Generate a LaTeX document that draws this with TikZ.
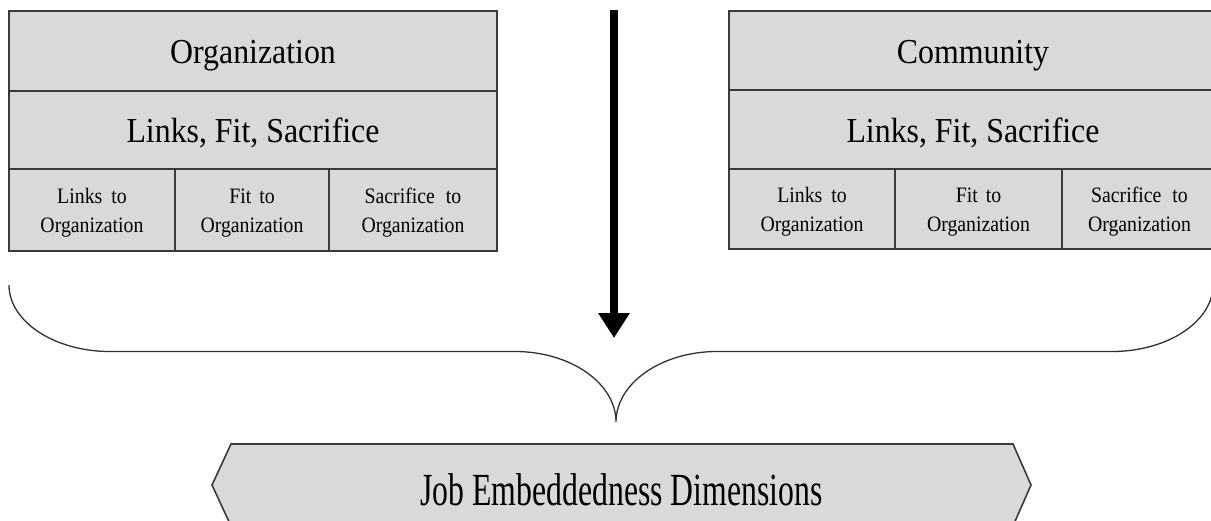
\documentclass[tikz,border=0pt]{standalone}
\usepackage{fontspec}
\setmainfont{Liberation Serif}
\newfontfamily\headfont[FakeStretch=0.91]{Liberation Serif}
\newfontfamily\cellfont[FakeStretch=0.9]{Liberation Serif}
\newfontfamily\jobfont[FakeStretch=0.69]{Liberation Serif}
\usetikzlibrary{arrows.meta}
\definecolor{boxfill}{HTML}{D9D9D9}
\definecolor{edge}{HTML}{3A3A3A}
\definecolor{bracecol}{HTML}{303030}
\begin{document}
\begin{tikzpicture}[x=1pt,y=-1pt,
  cellbase/.style={draw=edge, line width=1.6pt, fill=boxfill, inner sep=0pt, anchor=center},
  headcell/.style={cellbase, font=\headfont\fontsize{35}{40}\selectfont, text height=25pt, text depth=0pt},
  smallcell/.style={cellbase, align=center, font=\cellfont\fontsize{22}{29}\selectfont, text height=46pt, text depth=2pt},
  jobtext/.style={font=\jobfont\fontsize{46}{50}\selectfont, inner sep=0pt, anchor=base},
  bigarrow/.style={line width=8pt, draw=black, -{Triangle[length=25pt,width=30pt]}},
  bracestyle/.style={draw=bracecol, line width=1.3pt},
  hexstyle/.style={draw=edge, line width=1.6pt, fill=boxfill}
]
\useasboundingbox (0,0) rectangle (1211,520);
\clip (0,0) rectangle (1211,520);

% left box: Organization
\node[headcell, minimum width=488pt, minimum height=80pt] (orgh) at (253,51) {Organization};
\node[headcell, minimum width=488pt, minimum height=78pt] (orgl) at (253,130) {Links, Fit, Sacrifice};
\node[smallcell, minimum width=166pt, minimum height=82pt] (orgc1) at (92,210) {Links\hspace{9pt}to\\Organization};
\node[smallcell, minimum width=154pt, minimum height=82pt] (orgc2) at (252,210) {Fit\hspace{8pt}to\\Organization};
\node[smallcell, minimum width=168pt, minimum height=82pt] (orgc3) at (413,210) {Sacrifice\hspace{11pt}to\\Organization};

% right box: Community
\node[headcell, minimum width=488pt, minimum height=79pt] (comh) at (973,50.5) {Community};
\node[headcell, minimum width=488pt, minimum height=79pt] (coml) at (973,129.5) {Links, Fit, Sacrifice};
\node[smallcell, minimum width=166pt, minimum height=80pt] (comc1) at (812,209) {Links\hspace{9pt}to\\Organization};
\node[smallcell, minimum width=167pt, minimum height=80pt] (comc2) at (978.5,209) {Fit\hspace{8pt}to\\Organization};
\node[smallcell, minimum width=155pt, minimum height=80pt] (comc3) at (1139.5,209) {Sacrifice\hspace{11pt}to\\Organization};

% central arrow
\coordinate (atop) at (614,10);
\coordinate (atip) at (614,338);
\draw[bigarrow] (atop) -- (atip);

% brace
\coordinate (bl) at (9,285);
\coordinate (bl2) at (110,351.5);
\coordinate (bm1) at (515,351.5);
\coordinate (btip) at (616,422);
\coordinate (bm2) at (717,351.5);
\coordinate (br2) at (1112,351.5);
\coordinate (br) at (1213,285);
\draw[bracestyle] (bl) .. controls (9,321.4) and (54.2,351.5) .. (bl2)
  -- (bm1) .. controls (570.8,351.5) and (616,383.4) .. (btip)
  .. controls (616,383.4) and (661.2,351.5) .. (bm2)
  -- (br2) .. controls (1167.8,351.5) and (1213,321.4) .. (br);

% job embeddedness hexagon
\draw[hexstyle] (212,485) -- (231,444) -- (1013,444) -- (1031,485) -- (1013,526) -- (231,526) -- cycle;
\node[jobtext] (job) at (621.5,505) {Job Embeddedness Dimensions};
\end{tikzpicture}
\end{document}
